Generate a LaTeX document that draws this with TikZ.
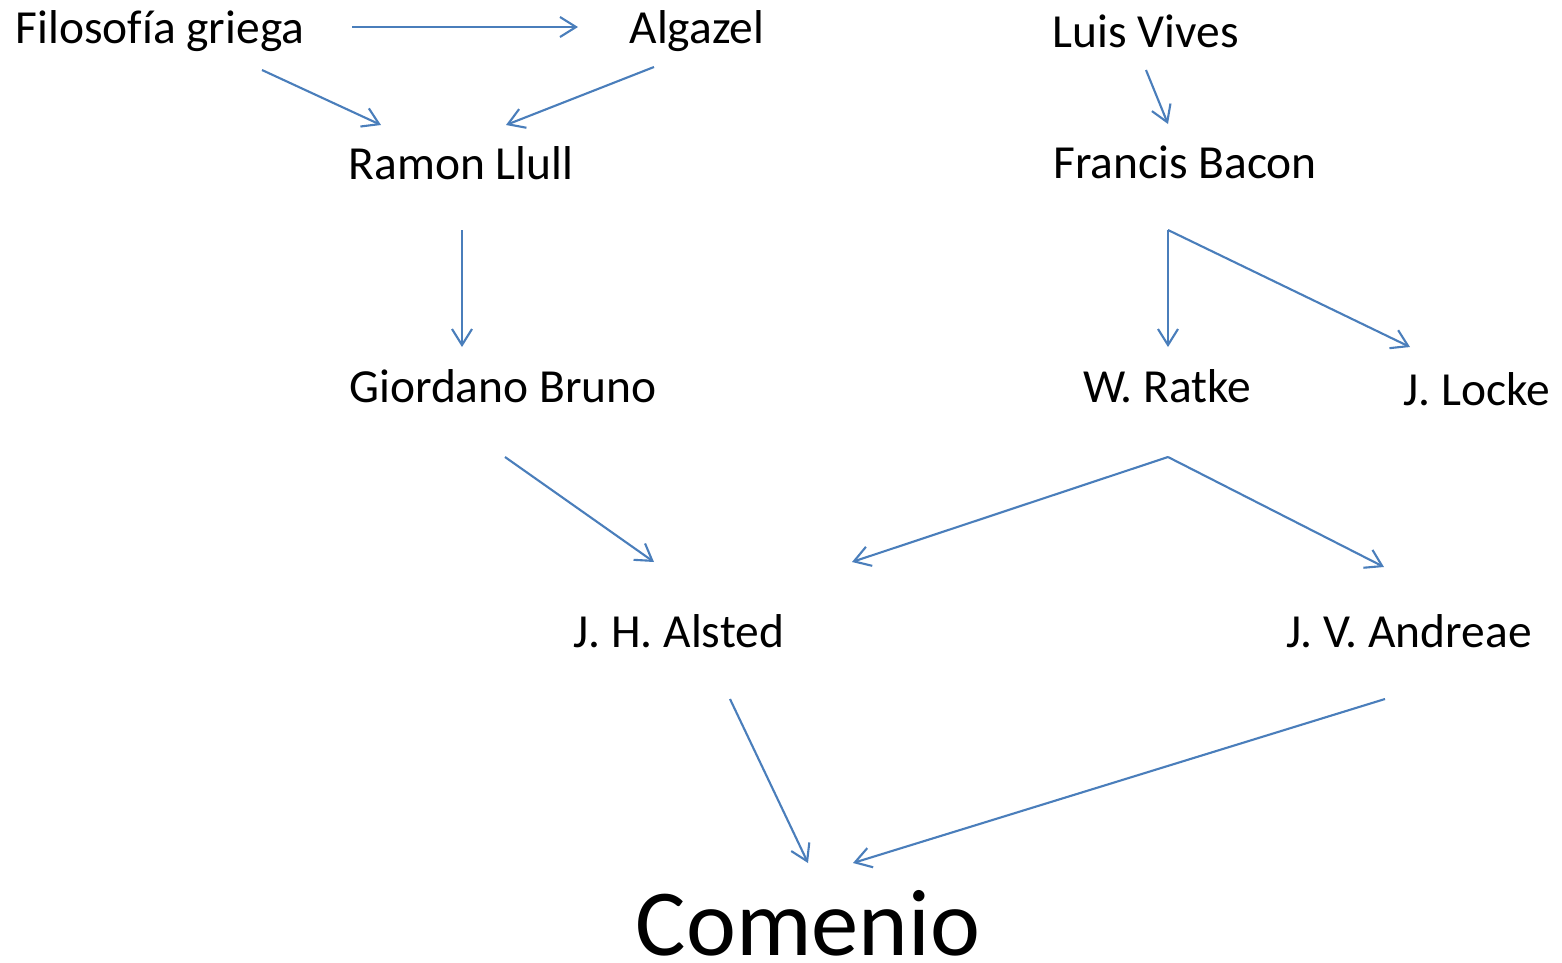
\documentclass[tikz,border=0pt]{standalone}
\usepackage{fontspec}
\setmainfont{Carlito}[Ligatures=CommonOff]
\usetikzlibrary{arrows.meta}
\definecolor{linkblue}{HTML}{4A7EBB}
\tikzset{
  person/.style={anchor=base, inner sep=0pt, font=\fontsize{13.5}{16}\selectfont},
  link/.style={draw=linkblue, line width=0.6pt, -{Straight Barb[length=1.6mm, width=2mm, line width=0.6pt]}}
}
\begin{document}
\begin{tikzpicture}[x=0.01cm, y=-0.01cm]
                \useasboundingbox (0,0) rectangle (1562,963);
                \node[person] (fg) at (160,43) {Filosofía griega}; \node[person] (alg) at (697,43) {Algazel}; \node[person] (lv) at (1146,47) {Luis Vives};
                \node[person] (rl) at (461,179) {Ramon Llull}; \node[person] (fb) at (1185,178) {Francis Bacon};
                \node[person] (gb) at (503,402) {Giordano Bruno}; \node[person] (wr) at (1167,402) {W. Ratke}; \node[person] (jl) at (1477,405) {J. Locke};
                \node[person] (jha) at (679,647) {J. H. Alsted}; \node[person] (jva) at (1409,647) {J. V. Andreae};
                \node[person, font=\fontsize{26.9}{30}\selectfont] (com) at (808,955) {Comenio};

                \draw[link] ([shift={(192,-16)}]fg.base) to ([shift={(-119,-16)}]alg.base);
                \draw[link] ([shift={(102,27)}]fg.base) to ([shift={(-80,-54)}]rl.base); \draw[link] ([shift={(-43,24)}]alg.base) to ([shift={(45,-54)}]rl.base);
                \draw[link] ([shift={(0,23)}]lv.base) to ([shift={(-17,-54)}]fb.base);
                \draw[link] ([shift={(1,51)}]rl.base) to ([shift={(-41,-55)}]gb.base);
                \draw[link] ([shift={(-17,52)}]fb.base) to ([shift={(1,-55)}]wr.base); \draw[link] ([shift={(-17,52)}]fb.base) to ([shift={(-67,-58)}]jl.base);
                \draw[link] ([shift={(2,55)}]gb.base) to ([shift={(-25,-85)}]jha.base);
                \draw[link] ([shift={(1,55)}]wr.base) to ([shift={(173,-85)}]jha.base); \draw[link] ([shift={(1,55)}]wr.base) to ([shift={(-25,-80)}]jva.base);
                \draw[link] ([shift={(51,52)}]jha.base) to ([shift={(0,-92)}]com.base); \draw[link] ([shift={(-24,52)}]jva.base) to ([shift={(45,-92)}]com.base);
            \end{tikzpicture}
\end{document}
